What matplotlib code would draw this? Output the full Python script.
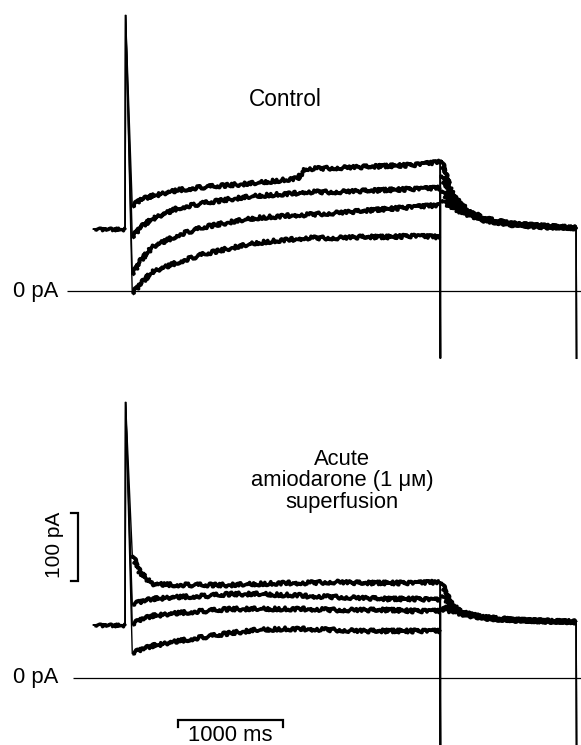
import matplotlib
matplotlib.use("Agg")
import matplotlib.pyplot as plt
import numpy as np

plt.rcParams['font.family'] = ['Liberation Sans', 'DejaVu Sans']

# ---------------- data (time in ms, current in pA) ----------------
t_hold = [-310, -8]
t_spike = [-4]
t_step = [60, 130, 250, 500, 750, 1000, 1250, 1500, 1650, 1700, 2000, 2250, 2500, 2750, 3000]
t_tail = [3010, 3100, 3200, 3400, 3700, 4000, 4300]
t_off = 3003          # repolarisation transient
t_end = 4303          # end of record transient

# Control
ctrl_hold = 91
ctrl_spike = 406
ctrl_transient = -99
ctrl_step = [
    [123.5, 133.8, 139.7, 148.5, 152.9, 155.9, 158.8, 163.2, 166.2, 179.4, 180.9, 182.4, 183.8, 185.3, 189.7],
    [77.9, 92.6, 105.9, 122.1, 129.4, 135.3, 139.7, 142.6, 144.1, 145.6, 145.6, 147.1, 148.5, 150.0, 151.5],
    [23.5, 42.6, 64.7, 82.4, 94.1, 101.5, 107.4, 110.3, 111.8, 111.8, 114.7, 117.6, 120.6, 123.5, 126.5],
    [-4.4, 8.8, 27.9, 42.6, 54.4, 63.2, 70.6, 75.0, 76.5, 77.9, 77.9, 79.4, 79.4, 80.9, 79.4],
]
ctrl_tail = [
    [192.6, 148.5, 126.5, 107.4, 98.5, 95.6, 92.6],
    [170.6, 138.2, 122.1, 105.9, 98.5, 95.6, 92.6],
    [148.5, 129.4, 119.1, 105.9, 98.5, 95.6, 92.6],
    [133.8, 123.5, 116.2, 104.4, 97.1, 94.1, 92.6],
]

# Acute amiodarone (1 uM) superfusion
amio_hold = 78
amio_spike = 406
amio_transient = -99
amio_step = [
    [180.9, 155.9, 138.2, 136.8, 136.8, 136.8, 138.2, 139.7, 139.7, 139.7, 141.2, 139.7, 139.7, 139.7, 141.2],
    [107.4, 111.8, 116.2, 119.1, 120.6, 123.5, 123.5, 122.1, 122.1, 120.6, 119.1, 117.6, 116.2, 116.2, 114.7],
    [77.9, 85.3, 91.2, 95.6, 98.5, 101.5, 101.5, 101.5, 101.5, 101.5, 100.0, 100.0, 100.0, 98.5, 98.5],
    [35.3, 41.2, 47.1, 54.4, 60.3, 66.2, 70.6, 72.1, 72.1, 72.1, 70.6, 69.1, 69.1, 69.1, 69.1],
]
amio_tail = [
    [141.2, 110.3, 97.1, 89.7, 85.3, 83.8, 82.4],
    [122.1, 107.4, 97.1, 89.7, 85.3, 83.8, 82.4],
    [102.9, 102.9, 95.6, 88.2, 85.3, 83.8, 82.4],
    [100.0, 98.5, 94.1, 88.2, 85.3, 83.8, 82.4],
]

panel_titles = ["Control", "Acute\namiodarone (1 \u03bc\u1d0d)\nsuperfusion"]
zero_label = "0 pA"
scale_pa = 100
scale_ms = 1000

# ---------------- layout ----------------
W, H = 581, 745
fig = plt.figure(figsize=(W / 100, H / 100), dpi=100)
px_per_ms = 0.1047
px_per_pa = 0.68
x_onset_px = 126
xlim = (-x_onset_px / px_per_ms, (W - x_onset_px) / px_per_ms)
FS = 15.8


def px_to_t(x):
    return (x - x_onset_px) / px_per_ms


def make_ax(top_px, bottom_px, zero_px):
    ax = fig.add_axes([0, 1 - bottom_px / H, 1, (bottom_px - top_px) / H])
    ax.set_xlim(*xlim)
    ax.set_ylim((zero_px - bottom_px) / px_per_pa, (zero_px - top_px) / px_per_pa)
    ax.axis('off')
    return ax


ax_top = make_ax(0, 372.5, 291)
ax_bot = make_ax(372.5, 745, 678)


def draw_panel(ax, hold, spike, transient, steps, tails, zero_start, title, title_xy, title_fs):
    # zero current line
    ax.plot([zero_start, xlim[1]], [0, 0], color='black', lw=0.9, solid_capstyle='butt')
    ax.text(px_to_t(58), 0, zero_label, ha='right', va='center', fontsize=FS)
    for st, tl in zip(steps, tails):
        tt = t_hold + t_spike + t_step + [t_off, t_off] + t_tail + [t_end, t_end]
        yy = [hold, hold, spike] + st + [transient, tl[0]] + tl + [transient, transient]
        ax.plot(tt, yy, color='black', lw=1.0, solid_joinstyle='miter')
        # noisy thick recording bands (step + tail)
        for tx, ty in ((t_step, st), (t_tail, tl)):
            ln, = ax.plot(tx, ty, color='black', lw=2.6, solid_capstyle='butt')
            ln.set_sketch_params(scale=1.8, length=2.0, randomness=20)
    lh, = ax.plot(t_hold, [hold, hold], color='black', lw=2.4, solid_capstyle='butt')
    lh.set_sketch_params(scale=1.4, length=2.0, randomness=20)
    ax.text(title_xy[0], title_xy[1], title, ha='center', va='center',
            fontsize=title_fs, linespacing=1.02)


draw_panel(ax_top, ctrl_hold, ctrl_spike, ctrl_transient, ctrl_step, ctrl_tail,
           px_to_t(67), panel_titles[0], (px_to_t(285), 281), 16.3)
draw_panel(ax_bot, amio_hold, amio_spike, amio_transient, amio_step, amio_tail,
           px_to_t(73), panel_titles[1], (px_to_t(342), 290), FS)

# scale bars (bottom panel)
bx = px_to_t(78)
by0 = 142.6
tick_ms = 70
ax_bot.plot([bx - tick_ms, bx, bx, bx - tick_ms], [by0, by0, by0 + scale_pa, by0 + scale_pa],
            color='black', lw=1.6, solid_joinstyle='miter')
ax_bot.text(px_to_t(55), by0 + scale_pa / 2 + 3, f"{scale_pa} pA", rotation=90,
            ha='center', va='center', fontsize=FS - 0.8)
tx0 = 500
ty = -61.8
ax_bot.plot([tx0, tx0, tx0 + scale_ms, tx0 + scale_ms], [ty - 10, ty, ty, ty - 10],
            color='black', lw=1.6, solid_joinstyle='miter')
ax_bot.text(tx0 + scale_ms / 2, -84.5, f"{scale_ms} ms", ha='center', va='center', fontsize=FS)

fig.savefig("out.png", dpi=100)
